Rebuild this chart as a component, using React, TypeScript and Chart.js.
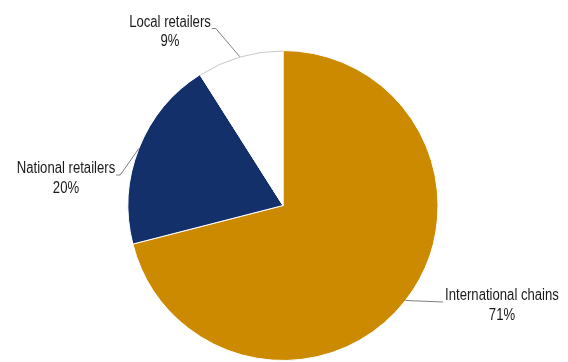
import React, { useEffect, useRef } from "react";
import { Chart, registerables } from "chart.js";

Chart.register(...registerables);

const categories = ["International chains", "National retailers", "Local retailers"];
const shares = [71, 20, 9];
const valueLabels = ["71%", "20%", "9%"];
const colors = ["#CC8A00", "#14306B", "#FFFFFF"];
// label text centres (x, first line y) — layout only
const labelPos = [
  { x: 502, y: 296 },
  { x: 66, y: 169 },
  { x: 170, y: 22.5 },
];

const FONT = '16px "Liberation Sans", Arial, sans-serif';
const SQUEEZE = 0.82;

const labelPlugin = {
  id: "pieLabels",
  afterDatasetsDraw(chart: any) {
    const ctx = chart.ctx as CanvasRenderingContext2D;
    const meta = chart.getDatasetMeta(0);
    ctx.save();
    meta.data.forEach((arc: any, i: number) => {
      const p = arc.getProps(["x", "y", "startAngle", "endAngle", "outerRadius"], true);
      if (colors[i] === "#FFFFFF") {
        ctx.beginPath();
        ctx.strokeStyle = "#c8c8c8";
        ctx.lineWidth = 1;
        ctx.arc(p.x, p.y, p.outerRadius - 0.5, p.startAngle, p.endAngle);
        ctx.stroke();
      }
      const mid = (p.startAngle + p.endAngle) / 2;
      const ex = p.x + Math.cos(mid) * p.outerRadius;
      const ey = p.y + Math.sin(mid) * p.outerRadius;
      ctx.font = FONT;
      const lp = labelPos[i];
      const w = ctx.measureText(categories[i]).width * SQUEEZE;
      const left = lp.x < p.x;
      const endX = left ? lp.x + w / 2 + 1 : lp.x - w / 2 - 2;
      const endY = lp.y + 6;
      ctx.beginPath();
      ctx.strokeStyle = "#7f7f7f";
      ctx.lineWidth = 1;
      ctx.moveTo(ex, ey);
      if (left) {
        ctx.lineTo(endX + 4, endY);
      }
      ctx.lineTo(endX, endY);
      ctx.stroke();
      ctx.save();
      ctx.translate(lp.x, lp.y);
      ctx.scale(SQUEEZE, 1);
      ctx.fillStyle = "#1a1a1a";
      ctx.textAlign = "center";
      ctx.textBaseline = "middle";
      ctx.fillText(categories[i], 0, 0);
      ctx.fillText(valueLabels[i], 0, 19.5);
      ctx.restore();
    });
    ctx.restore();
  },
};

export default function App() {
  const ref = useRef<HTMLCanvasElement>(null);
  useEffect(() => {
    if (!ref.current) return;
    const chart = new Chart(ref.current, {
      type: "pie",
      data: {
        labels: categories,
        datasets: [
          {
            data: shares,
            backgroundColor: colors,
            borderColor: "#ffffff",
            borderWidth: 1,
          },
        ],
      },
      options: {
        responsive: false,
        animation: false,
        layout: { padding: { top: 50, bottom: 1, left: 0, right: 2 } },
        plugins: { legend: { display: false }, tooltip: { enabled: false } },
      },
      plugins: [labelPlugin],
    });
    return () => chart.destroy();
  }, []);
  return (
    <div style={{ position: "absolute", left: 0, top: 0, width: 568, height: 362, background: "#fff" }}>
      <canvas ref={ref} width={568} height={362} />
    </div>
  );
}
